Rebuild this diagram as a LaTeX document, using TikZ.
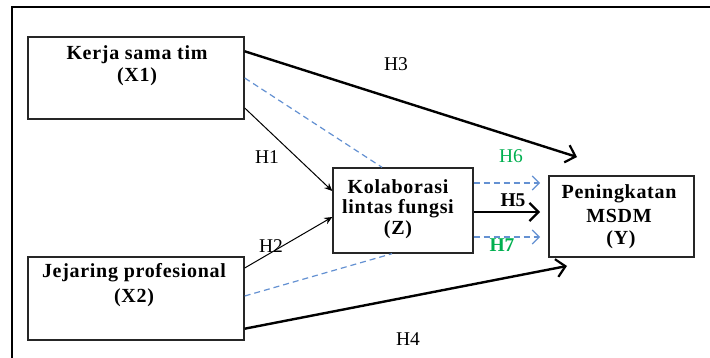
\documentclass[tikz,border=0pt]{standalone}
\usepackage{fontspec}
\setmainfont{Liberation Serif}
\usetikzlibrary{arrows.meta}
\definecolor{dashblue}{RGB}{100,145,210}
\definecolor{hgreen}{RGB}{0,176,80}
\tikzset{
  varbox/.style={draw=black!85, line width=1.4pt, minimum width=#1, inner sep=0pt},
  vartext/.style={font=\fontsize{20}{22}\selectfont\bfseries\addfontfeatures{LetterSpace=3.5}, align=center, inner sep=0pt},
  hlabel/.style={font=\fontsize{19.5}{22}\selectfont, inner sep=0pt},
  thickarrow/.style={line width=2.4pt, -{Straight Barb[length=9pt,width=18pt,line width=2.2pt]}},
  thinarrow/.style={line width=1pt, -{Stealth[length=8pt,width=7pt]}},
  dashline/.style={dashblue, line width=1.2pt, dash pattern=on 6pt off 4pt},
  dasharrow/.style={dashline, -{Straight Barb[length=7pt,width=14pt,line width=1.1pt]}},
}
\begin{document}
\begin{tikzpicture}[x=1pt,y=-1pt]
\useasboundingbox (0,0) rectangle (710,358);
\fill[white] (0,0) rectangle (710,358);
% outer frame
\draw[line width=1.4pt] (12,358) -- (12,7) -- (710,7);
% boxes
\node[varbox=216pt, minimum height=82pt] (x1) at (136,78) {};
\node[varbox=216pt, minimum height=83pt] (x2) at (136,298.5) {};
\node[varbox=140pt, minimum height=85pt] (z) at (403,210.5) {};
\node[varbox=145pt, minimum height=81pt] (y) at (621.5,216.5) {};
% box texts
\node[vartext] (x1t1) at (137,55) {Kerja sama tim};
\node[vartext] (x1t2) at (137,77) {(X1)};
\node[vartext] (x2t1) at (134,273) {Jejaring profesional};
\node[vartext] (x2t2) at (134,298) {(X2)};
\node[vartext] (zt1) at (398,187) {Kolaborasi};
\node[vartext] (zt2) at (398,209) {lintas fungsi};
\node[vartext] (zt3) at (398,230) {(Z)};
\node[vartext] (yt1) at (619,194) {Peningkatan};
\node[vartext] (yt2) at (619,216) {MSDM};
\node[vartext] (yt3) at (621,240) {(Y)};
% free arrow ends
\coordinate (h3end) at (577,157);
\coordinate (h4end) at (567,266);
\coordinate (h6end) at (540,183);
\coordinate (h5end) at (540,212);
\coordinate (h7end) at (540,237);
% connectors
\draw[thickarrow] ([yshift=-15pt]x1.north east) -- (h3end);
\draw[thickarrow] ([yshift=12pt]x2.south east) -- (h4end);
\draw[thinarrow] ([yshift=-30pt]x1.east) -- ([yshift=19.5pt]z.west);
\draw[thinarrow] ([yshift=30.5pt]x2.east) -- ([yshift=-6.5pt]z.west);
\draw[dashline] (x1.east) -- ([xshift=-21pt]z.north);
\draw[dashline] ([yshift=2.5pt]x2.east) -- ([xshift=-11pt]z.south);
\draw[dasharrow] ([yshift=27.5pt]z.east) -- (h6end);
\draw[thickarrow] ([yshift=-1.5pt]z.east) -- (h5end);
\draw[dasharrow] ([yshift=-26.5pt]z.east) -- (h7end);
% labels
\node[hlabel] (lh3) at (396,64) {H3};
\node[hlabel] (lh4) at (408,339) {H4};
\node[hlabel] (lh1) at (267,157) {H1};
\node[hlabel] (lh2) at (271,246) {H2};
\node[hlabel, text=hgreen] (lh6) at (511,156) {H6};
\node[hlabel, font=\fontsize{19.5}{22}\selectfont\bfseries] (lh5) at (513,200) {H5};
\node[hlabel, text=hgreen, font=\fontsize{19.5}{22}\selectfont\bfseries] (lh7) at (502,245) {H7};
\end{tikzpicture}
\end{document}
